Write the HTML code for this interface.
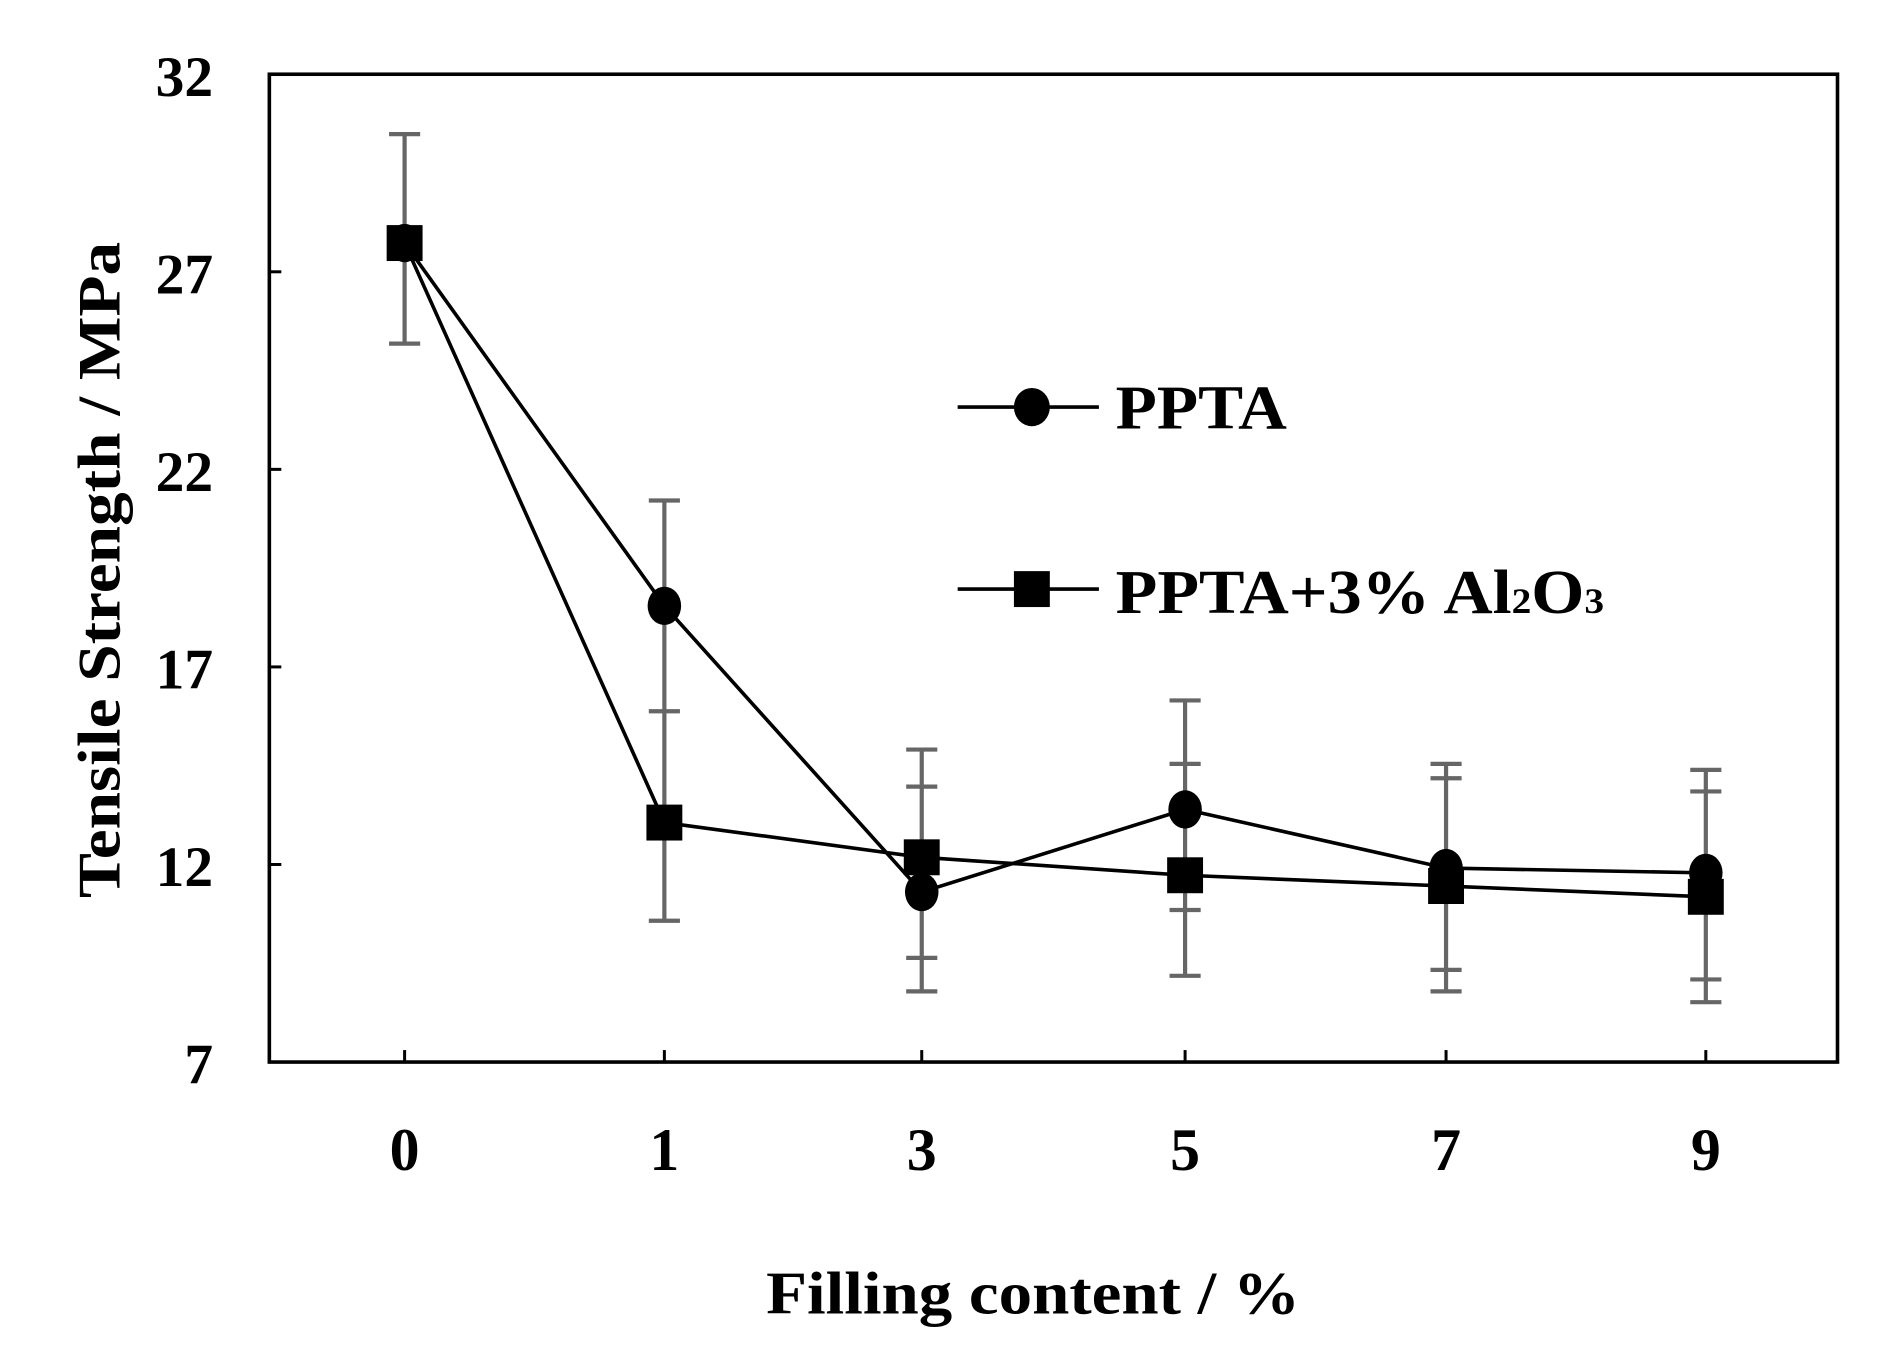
<!DOCTYPE html>
<html><head><style>html,body{margin:0;padding:0;background:#fff}svg{display:block}</style></head>
<body>
<svg width="1877" height="1353" viewBox="0 0 1568 1130" preserveAspectRatio="none" xmlns="http://www.w3.org/2000/svg" font-family="'Liberation Serif', serif" font-weight="bold">
<rect x="225" y="62" width="1310" height="825" fill="none" stroke="#000" stroke-width="3"/>
<g stroke="#000" stroke-width="2.5">
<line x1="225" y1="227" x2="235" y2="227"/><line x1="225" y1="392" x2="235" y2="392"/>
<line x1="225" y1="557" x2="235" y2="557"/><line x1="225" y1="722" x2="235" y2="722"/>
<line x1="338" y1="887" x2="338" y2="877"/><line x1="555" y1="887" x2="555" y2="877"/>
<line x1="770" y1="887" x2="770" y2="877"/><line x1="990" y1="887" x2="990" y2="877"/>
<line x1="1208" y1="887" x2="1208" y2="877"/><line x1="1425" y1="887" x2="1425" y2="877"/>
</g>
<g font-size="48" text-anchor="end">
<text x="178" y="80">32</text><text x="178" y="245">27</text><text x="178" y="410">22</text>
<text x="178" y="575">17</text><text x="178" y="740">12</text><text x="178" y="905">7</text>
</g>
<g font-size="50" text-anchor="middle">
<text x="338" y="977">0</text><text x="555" y="977">1</text><text x="770" y="977">3</text>
<text x="990" y="977">5</text><text x="1208" y="977">7</text><text x="1425" y="977">9</text>
</g>
<text x="640" y="1097" font-size="50" textLength="446" lengthAdjust="spacingAndGlyphs">Filling  content / %</text>
<text transform="translate(100,750) rotate(-90)" font-size="50" textLength="548" lengthAdjust="spacingAndGlyphs">Tensile Strength / MPa</text>
<g stroke="#666" stroke-width="3.5" fill="none">
<path d="M338 112V287M325 112H351M325 287H351"/>
<path d="M555 418V769M542 418H568M542 594H568M542 769H568"/>
<path d="M770 626V828M757 626H783M757 657H783M757 800H783M757 828H783"/>
<path d="M990 585V815M977 585H1003M977 638H1003M977 760H1003M977 815H1003"/>
<path d="M1208 638V828M1195 638H1221M1195 650H1221M1195 810H1221M1195 828H1221"/>
<path d="M1425 643V837M1412 643H1438M1412 661H1438M1412 818H1438M1412 837H1438"/>
</g>
<g stroke="#000" stroke-width="3" fill="none">
<polyline points="338,203 555,506 770,745 990,676 1208,725 1425,729"/>
<polyline points="338,203 555,687 770,716 990,731 1208,740 1425,749"/>
<line x1="800" y1="340" x2="918" y2="340"/><line x1="800" y1="492" x2="918" y2="492"/>
</g>
<g fill="#000">
<ellipse cx="555" cy="506" rx="14" ry="16"/><ellipse cx="770" cy="745" rx="14" ry="16"/>
<ellipse cx="990" cy="676" rx="14" ry="16"/><ellipse cx="1208" cy="725" rx="14" ry="16"/>
<ellipse cx="1425" cy="729" rx="14" ry="16"/><ellipse cx="338" cy="203" rx="14" ry="16"/>
<ellipse cx="862" cy="340" rx="15" ry="16"/>
<rect x="323" y="188" width="30" height="30"/><rect x="540" y="672" width="30" height="30"/>
<rect x="755" y="701" width="30" height="30"/><rect x="975" y="716" width="30" height="30"/>
<rect x="1193" y="725" width="30" height="30"/><rect x="1410" y="734" width="30" height="30"/>
<rect x="847" y="477" width="30" height="30"/>
</g>
<text x="932" y="358" font-size="52" textLength="143" lengthAdjust="spacingAndGlyphs">PPTA</text>
<text x="932" y="512" font-size="52" textLength="408" lengthAdjust="spacingAndGlyphs">PPTA+3% Al<tspan font-size="30">2</tspan>O<tspan font-size="30">3</tspan></text>
</svg>
</body></html>
